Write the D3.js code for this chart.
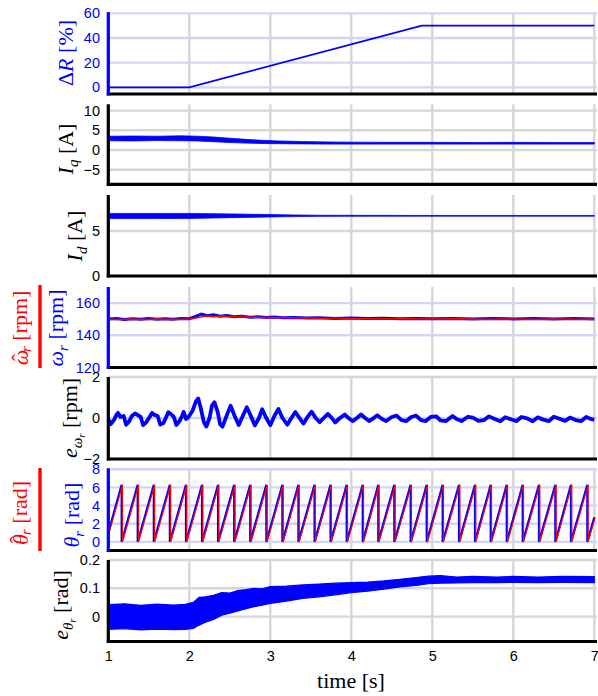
<!DOCTYPE html>
<html>
<head>
<meta charset="utf-8">
<script src="https://cdn.jsdelivr.net/npm/d3@7"></script>
<style>
  body { margin: 0; background: #fff; }
  svg { display: block; }
  .tick text { font-family: "Liberation Sans", Arial, sans-serif; font-size: 14.5px; }
  .lbl { font-family: "Liberation Serif", "DejaVu Serif", serif; font-size: 22px; }
</style>
</head>
<body>
<svg id="chart" width="598" height="696"></svg>
<script>
// ---- shared time axis ----
const timeTicks = [1, 2, 3, 4, 5, 6, 7];

// ---- ΔR [%] ----
const dRTime  = [1, 2, 4.87, 7];
const dRValue = [0, 0, 50, 50];
const dRTicks = [0, 20, 40, 60];

// ---- I_q [A] (noise band) ----
const iqTime  = [1, 1.3, 1.6, 1.9, 2.1, 2.3, 2.5, 2.7, 2.9, 3.1, 3.4, 3.7, 4.0, 4.5, 5, 5.5, 6, 6.5, 7];
const iqUpper = [3.5, 3.55, 3.5, 3.6, 3.5, 3.3, 3.0, 2.7, 2.45, 2.3, 2.15, 2.05, 2.0, 1.95, 1.95, 1.9, 1.95, 1.9, 1.9];
const iqLower = [2.35, 2.3, 2.4, 2.35, 2.3, 2.1, 1.9, 1.75, 1.65, 1.6, 1.55, 1.5, 1.5, 1.5, 1.5, 1.5, 1.5, 1.5, 1.5];
const iqTicks = [-5, 0, 5, 10];

// ---- I_d [A] (noise band) ----
const idTime  = [1, 1.5, 2, 2.5, 3, 3.3, 3.6, 4, 5, 6, 7];
const idUpper = [6.95, 6.95, 6.95, 6.9, 6.82, 6.78, 6.75, 6.74, 6.73, 6.73, 6.73];
const idLower = [6.38, 6.38, 6.4, 6.48, 6.56, 6.6, 6.63, 6.64, 6.65, 6.65, 6.65];
const idTicks = [0, 5];

// ---- speed ω_r and estimate ω̂_r [rpm] ----
const omegaTime  = [1, 1.1, 1.2, 1.3, 1.4, 1.5, 1.6, 1.7, 1.8, 1.9, 2.0, 2.08, 2.15, 2.22, 2.3, 2.38, 2.46, 2.55, 2.65, 2.75, 2.85, 2.95, 3.05, 3.15, 3.3, 3.45, 3.6, 3.8, 4.0, 4.2, 4.4, 4.6, 4.8, 5, 5.25, 5.5, 5.75, 6, 6.25, 6.5, 6.75, 7];
const omegaValue = [150.1, 150.4, 149.8, 150.3, 149.9, 150.4, 149.9, 150.3, 150.0, 150.4, 150.3, 151.8, 153.2, 152.2, 152.8, 151.8, 152.3, 151.5, 151.8, 151.2, 151.5, 151.0, 151.3, 150.9, 151.1, 150.7, 150.9, 150.5, 150.7, 150.4, 150.6, 150.3, 150.5, 150.3, 150.5, 150.2, 150.4, 150.2, 150.4, 150.2, 150.4, 150.2];
const omegaHatTime  = [1, 1.15, 1.3, 1.45, 1.6, 1.75, 1.9, 2.0, 2.1, 2.2, 2.3, 2.4, 2.5, 2.6, 2.8, 3.0, 3.2, 3.4, 3.6, 3.8, 4, 4.3, 4.6, 5, 5.3, 5.6, 6, 6.3, 6.6, 7];
const omegaHatValue = [150.0, 149.8, 150.1, 149.8, 150.1, 149.9, 150.0, 150.1, 150.9, 152.0, 151.6, 151.9, 151.5, 151.6, 151.2, 151.0, 150.9, 150.7, 150.6, 150.4, 150.4, 150.2, 150.3, 150.1, 150.2, 150.0, 150.1, 150.0, 150.1, 150.0];
const omegaTicks = [120, 140, 160];

// ---- speed error e_ω [rpm] ----
const eOmegaTime = [1.00, 1.03, 1.07, 1.10, 1.12, 1.15, 1.19, 1.22, 1.26, 1.29, 1.33, 1.36, 1.40, 1.43, 1.47, 1.51, 1.54, 1.57, 1.61, 1.64, 1.68, 1.71, 1.74, 1.77, 1.81, 1.84, 1.88, 1.91, 1.93, 1.96, 1.99,
  2.04, 2.08, 2.11, 2.14, 2.18, 2.21, 2.25, 2.28, 2.31, 2.35, 2.38, 2.41, 2.46, 2.51, 2.56, 2.61, 2.66, 2.71, 2.76, 2.81, 2.86, 2.90, 2.95, 3.00,
  3.05, 3.10, 3.15, 3.21, 3.26, 3.31, 3.36, 3.41, 3.46, 3.51, 3.56, 3.61, 3.66, 3.71, 3.76, 3.80, 3.86, 3.92, 3.97, 4.02, 4.07, 4.12, 4.17, 4.22, 4.27, 4.32,
  4.38, 4.43, 4.50, 4.56, 4.62, 4.68, 4.74, 4.80, 4.86, 4.92, 4.98, 5.05, 5.10, 5.17, 5.25, 5.30, 5.36, 5.44, 5.50, 5.57, 5.64, 5.70, 5.77, 5.84, 5.90, 5.97,
  6.04, 6.10, 6.17, 6.24, 6.30, 6.37, 6.44, 6.50, 6.57, 6.64, 6.70, 6.77, 6.84, 6.90, 6.96, 7.00];
const eOmegaValue = [-0.05, -0.3, -0.1, 0.15, 0.25, 0.05, 0.1, -0.33, -0.15, 0.1, 0.22, 0.15, 0.05, -0.35, -0.2, 0.05, 0.25, 0.15, 0.1, -0.32, -0.25, 0.0, 0.28, 0.2, 0.05, -0.34, -0.15, 0.1, 0.3, -0.05, 0.05,
  0.35, 0.8, 0.95, 0.5, -0.2, -0.42, 0.0, 0.6, 0.77, 0.3, -0.3, -0.42, 0.1, 0.6, 0.1, -0.34, 0.1, 0.52, 0.1, -0.36, 0.0, 0.43, 0.0, -0.35,
  0.1, 0.44, 0.0, -0.33, 0.0, 0.29, 0.0, -0.27, 0.05, 0.31, 0.0, -0.2, 0.0, 0.2, 0.0, -0.22, 0.0, 0.17, -0.02, -0.15, 0.0, 0.17, 0.0, -0.15, -0.02, 0.13,
  -0.05, -0.15, 0.05, 0.12, -0.1, -0.15, 0.05, 0.12, -0.1, -0.15, 0.05, 0.08, -0.12, -0.15, 0.1, -0.05, -0.15, 0.06, 0.02, -0.14, -0.1, 0.08, -0.05, -0.16, 0.04, -0.06,
  -0.15, 0.05, -0.02, -0.16, 0.03, -0.08, -0.15, 0.06, -0.04, -0.14, 0.02, -0.1, -0.15, 0.05, -0.05, -0.08];
const eOmegaTicks = [-2, 0, 2];

// ---- rotor angle θ_r [rad]: instants where the angle wraps from 2π to 0 ----
const thetaWrapTimes = [1.165, 1.363, 1.562, 1.760, 1.959, 2.157, 2.355, 2.554, 2.752, 2.951, 3.149, 3.347, 3.546, 3.744, 3.943,
  4.141, 4.333, 4.531, 4.733, 4.931, 5.128, 5.330, 5.527, 5.721, 5.919, 6.116, 6.317, 6.519, 6.712, 6.914];
const thetaStart = 1.0;      // angle at t = 1 s
const thetaEnd = 2.7;        // angle at t = 7 s
const thetaMax = 6.283;
const thetaTicks = [0, 2, 4, 6, 8];

// ---- angle error e_θ [rad] (noise band) ----
const eThetaTime  = [1.0, 1.2, 1.4, 1.6, 1.8, 1.95, 2.05, 2.12, 2.2, 2.3, 2.4, 2.5, 2.6, 2.7, 2.8, 2.9, 3.0, 3.2, 3.4, 3.6, 3.8, 4.0, 4.2, 4.4, 4.6, 4.8, 4.95, 5.1, 5.3, 5.5, 5.8, 6.0, 6.3, 6.6, 7.0];
const eThetaUpper = [0.042, 0.045, 0.04, 0.044, 0.041, 0.043, 0.05, 0.068, 0.07, 0.075, 0.085, 0.083, 0.092, 0.095, 0.1, 0.098, 0.106, 0.108, 0.112, 0.115, 0.118, 0.12, 0.122, 0.126, 0.132, 0.138, 0.143, 0.145, 0.14, 0.142, 0.14, 0.142, 0.14, 0.142, 0.141];
const eThetaLower = [-0.045, -0.043, -0.047, -0.044, -0.046, -0.045, -0.042, -0.03, -0.02, -0.01, 0.005, 0.012, 0.02, 0.028, 0.035, 0.04, 0.047, 0.055, 0.064, 0.07, 0.077, 0.085, 0.09, 0.097, 0.105, 0.11, 0.116, 0.118, 0.119, 0.12, 0.12, 0.121, 0.12, 0.121, 0.12];
const eThetaTicks = [0, 0.1, 0.2];

// ---- drawing ----
const BLUE = "#0000ff", RED = "#ff0000", BLACK = "#000";
const GRID_GREY = "#d6d6d6", GRID_BLUE = "#d4d4fa";
const svg = d3.select("#chart");
const x = d3.scaleLinear().domain([1, 7]).range([108.3, 594.3]);
const plotLeft = 108.3, plotRight = 597;

function makePanel({ domain, range, ticks, color, gridColor }) {
  const y = d3.scaleLinear().domain(domain).range(range);
  const g = svg.append("g");
  const [yb, yt] = range;
  // vertical grid
  g.append("g").selectAll("line").data(timeTicks).join("line")
    .attr("x1", d => x(d)).attr("x2", d => x(d))
    .attr("y1", yt).attr("y2", yb)
    .attr("stroke", GRID_GREY).attr("stroke-width", 2.4);
  // horizontal grid
  g.append("g").selectAll("line").data(ticks).join("line")
    .attr("x1", plotLeft).attr("x2", plotRight)
    .attr("y1", d => y(d)).attr("y2", d => y(d))
    .attr("stroke", gridColor).attr("stroke-width", 2.4);
  // tick labels
  const ax = g.append("g").attr("transform", `translate(${plotLeft},0)`)
    .call(d3.axisLeft(y).tickValues(ticks).tickSize(0).tickPadding(8.3).tickFormat(d3.format("")));
  ax.select(".domain").remove();
  ax.selectAll("text").attr("fill", color);
  const data = svg.append("g");
  return { g, y, data, yt, yb, color };
}

function finishPanel(p) {
  svg.append("line").attr("x1", plotLeft - 1.5).attr("x2", plotRight)
    .attr("y1", p.yb).attr("y2", p.yb).attr("stroke", BLACK).attr("stroke-width", 3.2);
  svg.append("line").attr("x1", plotLeft).attr("x2", plotLeft)
    .attr("y1", p.yt).attr("y2", p.yb + 1.5).attr("stroke", p.color).attr("stroke-width", 3.2);
}

function linePath(p, ts, vs) {
  return d3.line().x(i => x(ts[i])).y(i => p.y(vs[i]))(d3.range(ts.length));
}
function bandPath(p, ts, up, lo) {
  return d3.area().x(i => x(ts[i])).y0(i => p.y(lo[i])).y1(i => p.y(up[i]))(d3.range(ts.length));
}

// rotated axis label built from [text, options] pieces
function label(xb, yc, parts, color) {
  const t = svg.append("text").attr("class", "lbl")
    .attr("transform", `translate(${xb},${yc}) rotate(-90)`)
    .attr("text-anchor", "middle").attr("fill", color);
  parts.forEach(([s, opt]) => {
    const ts = t.append("tspan").text(s);
    opt = opt || {};
    if (opt.it) ts.attr("font-style", "italic");
    if (opt.dy !== undefined) ts.attr("dy", opt.dy);
    if (opt.dx !== undefined) ts.attr("dx", opt.dx);
    if (opt.fs) ts.attr("font-size", opt.fs);
  });
  return t;
}
const SUB = 15;

// Panel 1: ΔR
const p1 = makePanel({ domain: [-5.4, 61], range: [94, 12.1], ticks: dRTicks, color: BLUE, gridColor: GRID_BLUE });
p1.data.append("path").attr("d", linePath(p1, dRTime, dRValue)).attr("fill", "none").attr("stroke", BLUE).attr("stroke-width", 1.6);
finishPanel(p1);
label(73, 53, [["Δ"], ["R", { it: 1 }], [" [%]"]], BLUE);

// Panel 2: I_q
const p2 = makePanel({ domain: [-8.7, 11.6], range: [184.3, 104.3], ticks: iqTicks, color: BLACK, gridColor: GRID_GREY });
p2.data.append("path").attr("d", bandPath(p2, iqTime, iqUpper, iqLower)).attr("fill", BLUE).attr("stroke", BLUE).attr("stroke-width", 0.8);
finishPanel(p2);
label(73, 149, [["I", { it: 1 }], ["q", { it: 1, dy: 5, fs: SUB }], [" [A]", { dy: -5 }]], BLACK);

// Panel 3: I_d
const p3 = makePanel({ domain: [0, 9], range: [276, 195], ticks: idTicks, color: BLACK, gridColor: GRID_GREY });
p3.data.append("path").attr("d", bandPath(p3, idTime, idUpper, idLower)).attr("fill", BLUE).attr("stroke", BLUE).attr("stroke-width", 0.8);
finishPanel(p3);
label(82, 236, [["I", { it: 1 }], ["d", { it: 1, dy: 5, fs: SUB }], [" [A]", { dy: -5 }]], BLACK);

// Panel 4: ω_r and ω̂_r
const p4 = makePanel({ domain: [120, 170], range: [367.5, 287], ticks: omegaTicks, color: BLUE, gridColor: GRID_BLUE });
p4.data.append("path").attr("d", linePath(p4, omegaTime, omegaValue)).attr("fill", "none").attr("stroke", BLUE).attr("stroke-width", 3);
p4.data.append("path").attr("d", linePath(p4, omegaHatTime, omegaHatValue)).attr("fill", "none").attr("stroke", RED).attr("stroke-width", 1.6);
finishPanel(p4);
label(28, 328, [["ω", { it: 1 }], ["ˆ", { dx: "-0.52em", dy: "-0.05em" }], ["r", { it: 1, dx: "0.12em", dy: "0.3em", fs: SUB }], [" [rpm]", { dy: "-0.18em" }]], RED);
svg.append("rect").attr("x", 38.3).attr("y", 285).attr("width", 3.4).attr("height", 83).attr("fill", RED);
label(63, 328, [["ω", { it: 1 }], ["r", { it: 1, dy: 5, fs: SUB }], [" [rpm]", { dy: -5 }]], BLUE);

// Panel 5: e_ω
const p5 = makePanel({ domain: [-2, 2], range: [459, 377], ticks: eOmegaTicks, color: BLACK, gridColor: GRID_GREY });
p5.data.append("path").attr("d", linePath(p5, eOmegaTime, eOmegaValue)).attr("fill", "none").attr("stroke", BLUE).attr("stroke-width", 3.8).attr("stroke-linejoin", "round");
finishPanel(p5);
label(77, 418, [["e", { it: 1 }], ["ω", { it: 1, dy: 5, fs: SUB }], ["r", { it: 1, dy: 3, fs: 11 }], [" [rpm]", { dy: -8 }]], BLACK);

// Panel 6: θ_r and θ̂_r sawtooth
const p6 = makePanel({ domain: [-0.95, 8.1], range: [550.5, 468.3], ticks: thetaTicks, color: BLUE, gridColor: GRID_BLUE });
const sawT = [1], sawV = [thetaStart];
thetaWrapTimes.forEach(t => { sawT.push(t, t); sawV.push(thetaMax, 0); });
sawT.push(7); sawV.push(thetaEnd);
p6.data.append("path").attr("d", linePath(p6, sawT, sawV)).attr("fill", "none").attr("stroke", BLUE).attr("stroke-width", 2.2);
p6.data.append("path").attr("d", linePath(p6, sawT, sawV)).attr("fill", "none").attr("stroke", RED).attr("stroke-width", 1.2)
  .attr("transform", "translate(0.8,0)");
finishPanel(p6);
label(28, 513, [["θ", { it: 1 }], ["ˆ", { dx: "-0.42em", dy: "-0.12em" }], ["r", { it: 1, dx: "0.08em", dy: "0.37em", fs: SUB }], [" [rad]", { dy: "-0.18em" }]], RED);
svg.append("rect").attr("x", 38.3).attr("y", 468).attr("width", 3.4).attr("height", 83).attr("fill", RED);
label(79, 515, [["θ", { it: 1 }], ["r", { it: 1, dy: 5, fs: SUB }], [" [rad]", { dy: -5 }]], BLUE);

// Panel 7: e_θ
const p7 = makePanel({ domain: [-0.088, 0.2], range: [641.5, 560], ticks: eThetaTicks, color: BLACK, gridColor: GRID_GREY });
p7.data.append("path").attr("d", bandPath(p7, eThetaTime, eThetaUpper, eThetaLower)).attr("fill", BLUE).attr("stroke", BLUE).attr("stroke-width", 1.2);
finishPanel(p7);
label(68, 605, [["e", { it: 1 }], ["θ", { it: 1, dy: 5, fs: SUB }], ["r", { it: 1, dy: 3, fs: 11 }], [" [rad]", { dy: -8 }]], BLACK);

// time axis labels
const xa = svg.append("g").attr("transform", `translate(0,641.5)`)
  .call(d3.axisBottom(x).tickValues(timeTicks).tickSize(0).tickPadding(9.5).tickFormat(d3.format("d")));
xa.select(".domain").remove();
xa.selectAll("text").attr("fill", BLACK);
svg.append("text").attr("class", "lbl").attr("x", 351).attr("y", 688).attr("text-anchor", "middle").text("time [s]");
</script>
</body>
</html>
